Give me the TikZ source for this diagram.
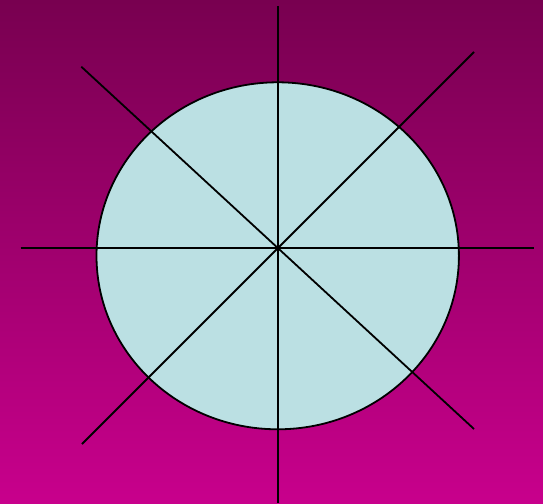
\documentclass[tikz,border=0pt]{standalone}
\usepackage{xcolor}
\usepackage{tikz}
\usetikzlibrary{calc}

\definecolor{bgtop}{HTML}{780050}
\definecolor{bgbottom}{HTML}{C8008C}
\definecolor{discfill}{HTML}{BBE0E3}

\begin{document}
\begin{tikzpicture}[x=1pt, y=-1pt, line width=1.8pt]
    % Nền chuyển màu
    \shade[top color=bgtop, bottom color=bgbottom] (0,0) rectangle (543,503);
    \useasboundingbox (0,0) rectangle (543,503);

    % Hình tròn
    \coordinate (C) at (277.7,255.8);
    \draw[fill=discfill] (C) ellipse [x radius=181.2, y radius=173.5];

    % Tâm và các đầu mút
    \coordinate (O) at (277.7,248);
    \coordinate (N) at (277.7,6);
    \coordinate (S) at (277.7,503);
    \coordinate (W) at (20.7,248);
    \coordinate (E) at (534.3,248);
    \coordinate (NW) at (81.3,66.7);
    \coordinate (SE) at (474,429);
    \coordinate (NE) at (474,52);
    \coordinate (SW) at (82,444);

    % Các đường thẳng qua tâm
    \draw (N) -- (S);
    \draw (W) -- (E);
    \draw (NW) -- (SE);
    \draw (NE) -- (SW);
\end{tikzpicture}
\end{document}
